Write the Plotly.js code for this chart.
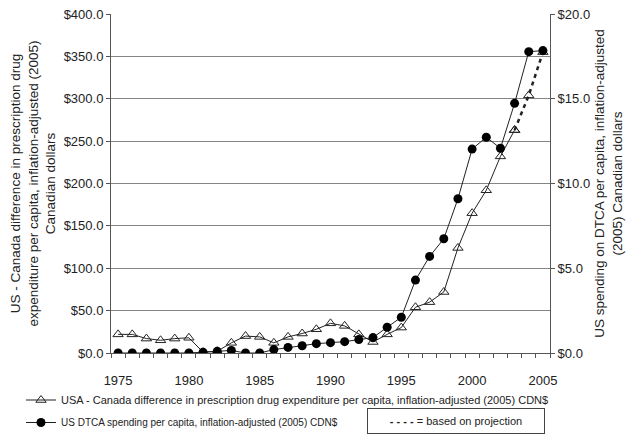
<!DOCTYPE html>
<html><head><meta charset="utf-8">
<script src="https://cdn.plot.ly/plotly-3.0.1.min.js"></script>
<style>html,body{margin:0;padding:0;background:#fff}#chart{width:629px;height:435px}</style>
</head><body><div id="chart"></div>
<script>
const years = [1975,1976,1977,1978,1979,1980,1981,1982,1983,1984,1985,1986,1987,1988,1989,1990,1991,1992,1993,1994,1995,1996,1997,1998,1999,2000,2001,2002,2003,2004,2005];
const diffValues = [22,22,17,15,17,18,1,2,12,20,19,12,19,23,28,35,32,22,13,22,30,54,60,72,124,165,192,232,263,304,355];
const dtcaValues = [0,0,0,0,0,0,0.05,0.1,0.15,0,0,0.2,0.33,0.43,0.55,0.61,0.67,0.79,0.91,1.52,2.11,4.3,5.7,6.74,9.1,12.03,12.73,12.08,14.73,17.78,17.84];
const projectionStart = 2003;
const diffName = 'USA - Canada difference in prescription drug expenditure per capita, inflation-adjusted (2005) CDN$';
const dtcaName = 'US DTCA spending per capita, inflation-adjusted (2005) CDN$';
const xTickLabels = [1975,1980,1985,1990,1995,2000,2005];
const leftTicks = [0,50,100,150,200,250,300,350,400];
const rightTicks = [0,5,10,15,20];

const solidX = [], solidY = [], projX = [], projY = [];
years.forEach((yr,i)=>{
  if (yr <= projectionStart) { solidX.push(yr); solidY.push(diffValues[i]); }
  if (yr >= projectionStart) { projX.push(yr); projY.push(diffValues[i]); }
});

const fam = 'Liberation Sans, Arial, sans-serif';
const f = (size)=>({family:fam, size:size, color:'#222'});
const traces = [
  {x: solidX, y: solidY, name: diffName, mode:'lines+markers', yaxis:'y', legend:'legend',
   line:{color:'#222', width:1},
   marker:{symbol:'triangle-up-open', size:9, color:'#222', line:{width:1}}},
  {x: projX, y: projY, name: 'projection', mode:'lines+markers', yaxis:'y', showlegend:false,
   line:{color:'#222', width:2.5, dash:'4px,4px'},
   marker:{symbol:'triangle-up-open', size:9, color:'#222', line:{width:1}}},
  {x: years, y: dtcaValues, name: dtcaName, mode:'lines+markers', yaxis:'y2', legend:'legend2',
   line:{color:'#222', width:1},
   marker:{symbol:'circle', size:9, color:'#000'}}
];

const legendBase = {xanchor:'left', yanchor:'top', orientation:'v', itemwidth:30,
  tracegroupgap:0, bgcolor:'rgba(0,0,0,0)'};
const layout = {
  width:629, height:435,
  margin:{l:111, r:79, t:14, b:82, autoexpand:false},
  paper_bgcolor:'#fff', plot_bgcolor:'#fff',
  font: f(12),
  showlegend:true,
  legend:Object.assign({x:(21-111)/439, y:-(385.5-353)/339, font:f(11)}, legendBase),
  legend2:Object.assign({x:(21-111)/439, y:-(408-353)/339, font:f(10)}, legendBase),
  xaxis:{range:[1974.5,2005.5], tickmode:'array', tickvals:xTickLabels,
    ticks:'', ticklabelstandoff:15, showgrid:false, zeroline:false, showline:true, linecolor:'#555', linewidth:1,
    tickfont:f(13),
    minor:{tick0:1974.5, dtick:1, ticks:'outside', ticklen:4, tickcolor:'#555', showgrid:false}},
  yaxis:{range:[0,400], tickmode:'array', tickvals:leftTicks, tickformat:'$.1f',
    ticks:'outside', ticklen:4, tickcolor:'#555',
    showgrid:true, gridcolor:'#858585', gridwidth:1, zeroline:false,
    showline:true, linecolor:'#555', linewidth:1,
    tickfont:f(13),
    title:{text:'US - Canada difference in prescription drug<br>expenditure per capita, inflation-adjusted (2005)<br>Canadian dollars',
      font:f(13.5), standoff:4}},
  yaxis2:{range:[0,20], overlaying:'y', side:'right', tickmode:'array', tickvals:rightTicks, tickformat:'$.1f',
    ticks:'outside', ticklen:4, tickcolor:'#555', showgrid:false, zeroline:false,
    showline:true, linecolor:'#555', linewidth:1,
    tickfont:f(13),
    title:{text:'US spending on DTCA per capita, inflation-adjusted<br>(2005) Canadian dollars',
      font:f(13.5), standoff:5}},
  annotations:[{xref:'paper', yref:'paper', x:(545-111)/439, y:(353-421)/339, xanchor:'right', yanchor:'middle',
    text:'<b>- - - -</b> = based on projection', showarrow:false, font:f(11),
    bordercolor:'#444', borderwidth:1, borderpad:4, width:168, height:16, align:'center'}]
};
Plotly.newPlot('chart', traces, layout, {staticPlot:true, displayModeBar:false});
</script></body></html>
